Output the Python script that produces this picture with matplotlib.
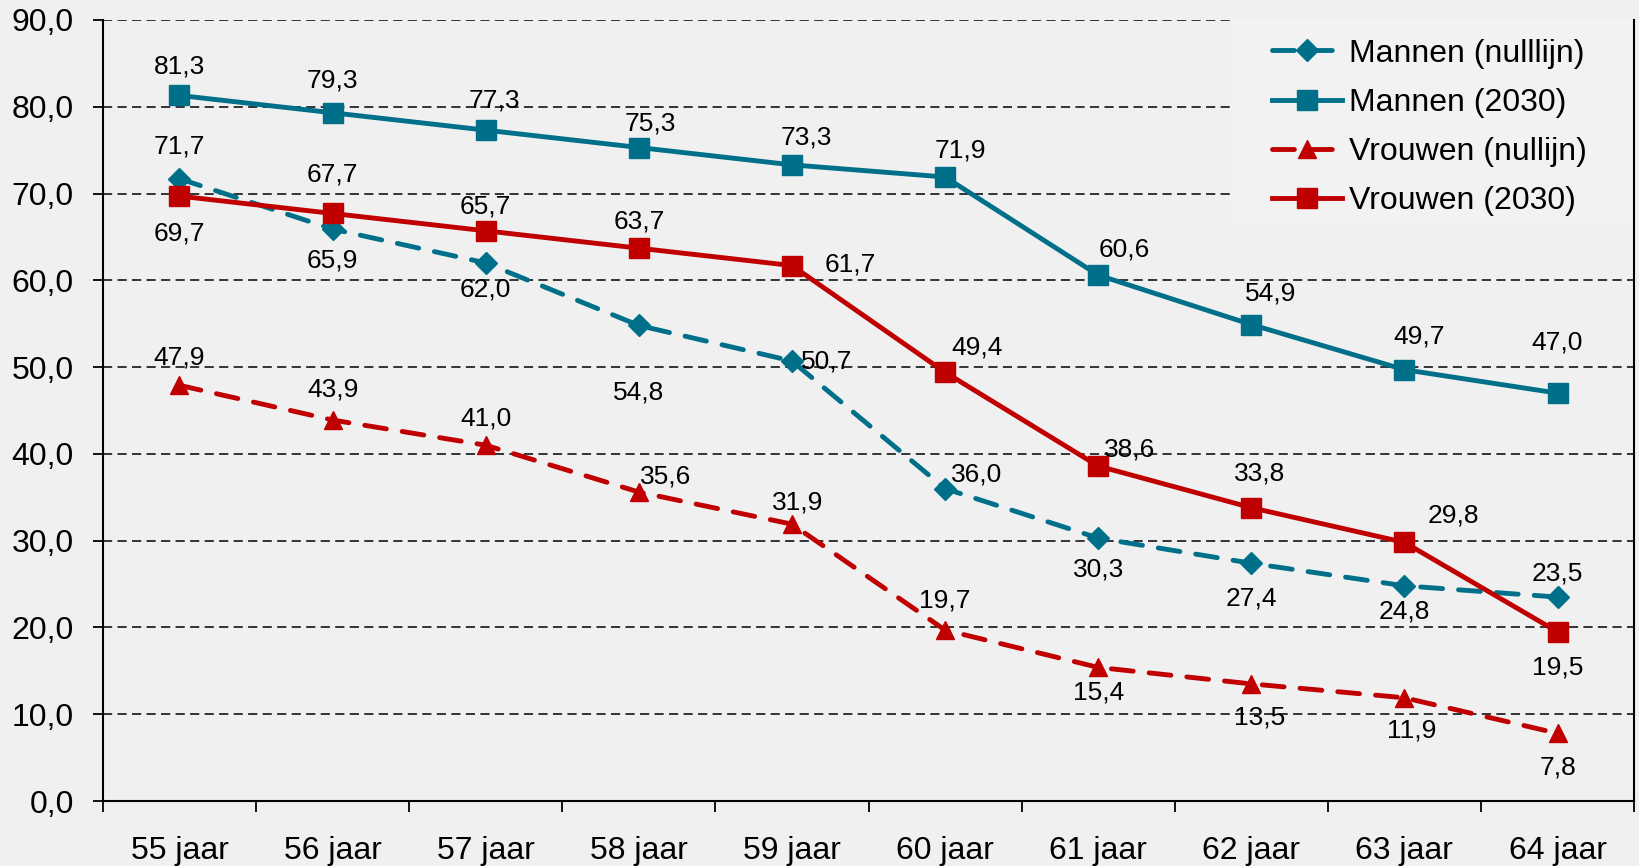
import matplotlib
matplotlib.use("Agg")
import matplotlib.pyplot as plt
from matplotlib.patches import Rectangle

plt.rcParams['font.family'] = ['Liberation Sans', 'DejaVu Sans']

# data
categories = ['55 jaar', '56 jaar', '57 jaar', '58 jaar', '59 jaar',
              '60 jaar', '61 jaar', '62 jaar', '63 jaar', '64 jaar']
mannen_nullijn = [71.7, 65.9, 62.0, 54.8, 50.7, 36.0, 30.3, 27.4, 24.8, 23.5]
mannen_2030 = [81.3, 79.3, 77.3, 75.3, 73.3, 71.9, 60.6, 54.9, 49.7, 47.0]
vrouwen_nullijn = [47.9, 43.9, 41.0, 35.6, 31.9, 19.7, 15.4, 13.5, 11.9, 7.8]
vrouwen_2030 = [69.7, 67.7, 65.7, 63.7, 61.7, 49.4, 38.6, 33.8, 29.8, 19.5]
y_ticks = [0, 10, 20, 30, 40, 50, 60, 70, 80, 90]

# label offsets in pixels (dx, dy), mimicking the original label placement
off_mn = [(0, 32), (0, -31), (0, -27), (0, -67), (35, 0),
          (32, 14), (0, -31), (0, -35), (0, -26), (0, 24)]
off_m30 = [(0, 29), (0, 32), (9, 30), (11, 24), (14, 27),
           (15, 27), (26, 26), (19, 31), (15, 33), (0, 51)]
off_vn = [(0, 28), (0, 31), (0, 27), (27, 16), (6, 22),
          (0, 30), (0, -25), (8, -34), (7, -33), (0, -34)]
off_v30 = [(0, -37), (0, 39), (0, 24), (0, 27), (58, 1),
           (32, 25), (31, 17), (8, 34), (49, 27), (0, -36)]

TEAL = '#00708a'
RED = '#c00000'
BG = '#f0f0f0'


def fmt(v):
    return f"{v:.1f}".replace('.', ',')


fig = plt.figure(figsize=(16.39, 8.66), dpi=100, facecolor=BG)
ax = fig.add_axes([0.0628, 0.075, 0.9342, 0.902])
ax.set_facecolor(BG)

x = list(range(len(categories)))
dash = (0, (4.5, 3.3))
series = [
    ('Mannen (nulllijn)', mannen_nullijn, TEAL, dash, 'D', 11, off_mn),
    ('Mannen (2030)', mannen_2030, TEAL, '-', 's', 14, off_m30),
    ('Vrouwen (nullijn)', vrouwen_nullijn, RED, dash, '^', 13, off_vn),
    ('Vrouwen (2030)', vrouwen_2030, RED, '-', 's', 14, off_v30),
]
for name, vals, col, ls, mk, ms, offs in series:
    ax.plot(x, vals, color=col, linestyle=ls, linewidth=3.5, marker=mk,
            markersize=ms, dash_capstyle='round', label=name, zorder=3)
    for xi, v, (dx, dy) in zip(x, vals, offs):
        ax.annotate(fmt(v), (xi, v), xytext=(dx, dy), textcoords='offset pixels',
                    ha='center', va='center', fontsize=19, zorder=5)

ax.set_xlim(-0.5, len(categories) - 0.5)
ax.set_ylim(0, 90)
ax.set_yticks(y_ticks)
ax.set_yticklabels([fmt(v) for v in y_ticks], fontsize=23)
ax.tick_params(axis='y', direction='out', length=7, width=1.3, pad=14)

# tick marks between categories, labels at the centres
ax.set_xticks([i - 0.5 for i in range(len(categories) + 1)])
ax.set_xticklabels([''] * (len(categories) + 1))
ax.tick_params(axis='x', which='major', direction='out', length=8, width=1.3)
ax.set_xticks(x, minor=True)
ax.set_xticklabels(categories, minor=True, fontsize=23)
ax.tick_params(axis='x', which='minor', length=0, pad=25)

for yv in y_ticks[1:]:
    ax.axhline(yv, color='black', linewidth=1.1, linestyle=(0, (6, 3.5)), zorder=1)

ax.spines['top'].set_visible(False)
for s in ['left', 'bottom', 'right']:
    ax.spines[s].set_linewidth(1.5)

# legend background box (no border), legend itself without frame
ax.add_patch(Rectangle((0.7374, 0.741), 0.2626, 0.259, transform=ax.transAxes,
                       facecolor='#f2f2f2', edgecolor='none', zorder=2))
leg = ax.legend(loc='upper left', bbox_to_anchor=(0.7636, 0.976), borderaxespad=0,
                borderpad=0, fontsize=23, frameon=False, handlelength=2.2,
                handletextpad=0.2, labelspacing=0.6)
leg.set_zorder(6)

plt.savefig('out.png', dpi=100, facecolor=BG)
plt.close()
